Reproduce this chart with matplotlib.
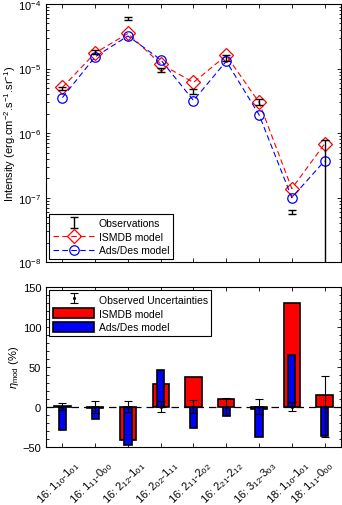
import numpy as np
import matplotlib
matplotlib.use("Agg")
import matplotlib.pyplot as plt
from matplotlib.transforms import ScaledTranslation
from matplotlib.ticker import LogLocator, MultipleLocator, NullFormatter

# ---- data ----
labels = ["16: 1$_{10}$-1$_{01}$", "16: 1$_{11}$-0$_{00}$", "16: 2$_{12}$-1$_{01}$",
          "16: 2$_{02}$-1$_{11}$", "16: 2$_{11}$-2$_{02}$", "16: 2$_{21}$-2$_{12}$",
          "16: 3$_{12}$-3$_{03}$", "18: 1$_{10}$-1$_{01}$", "18: 1$_{11}$-0$_{00}$"]
obs = [4.9e-6, 1.8e-5, 6.0e-5, 9.4e-6, 4.4e-6, 1.47e-5, 3.05e-6, 6.0e-8, 6.5e-7]
obs_lo = [4.66e-6, 1.67e-5, 5.6e-5, 8.7e-6, 4.05e-6, 1.31e-5, 2.76e-6, 5.65e-8, 1e-9]
obs_hi = [5.12e-6, 1.93e-5, 6.4e-5, 1.01e-5, 4.75e-6, 1.63e-5, 3.34e-6, 6.35e-8, 7.8e-7]
ismdb = [5.1e-6, 1.75e-5, 3.5e-5, 1.18e-5, 6.1e-6, 1.6e-5, 3.0e-6, 1.38e-7, 6.8e-7]
adsdes = [3.55e-6, 1.52e-5, 3.2e-5, 1.37e-5, 3.2e-6, 1.3e-5, 1.93e-6, 1.0e-7, 3.7e-7]

eta_ismdb = [1, -2, -42, 28, 37, 10, -3, 130, 15]
eta_ads = [-29, -16, -48, 46, -27, -12, -38, 65, -37]
unc = [4.5, 7.5, 7, 7.3, 8, 11, 9.5, 6, 38.7]

plt.rcParams['font.family'] = ['Liberation Sans', 'DejaVu Sans']
plt.rcParams['mathtext.fontset'] = 'custom'
plt.rcParams['mathtext.rm'] = 'Liberation Sans'
plt.rcParams['mathtext.it'] = 'Liberation Sans:italic'

x = np.arange(1, len(labels) + 1)
fig = plt.figure(figsize=(3.42, 5.06), dpi=100)
ax1 = fig.add_axes([0.1345, 0.480, 0.8625, 0.510])
ax2 = fig.add_axes([0.1345, 0.1156, 0.8625, 0.3154])

fs = 8
# ---- top panel ----
o = np.array(obs)
yerr = [o - np.array(obs_lo), np.array(obs_hi) - o]
ax1.errorbar(x, obs, yerr=yerr, fmt='none', ecolor='black', elinewidth=1.0,
             capsize=3.2, capthick=1.0, label='Observations', zorder=4)
ax1.plot(x, ismdb, linestyle=(0, (5, 3)), color='red', lw=0.8, marker='D',
         markersize=6.8, markerfacecolor='none', markeredgecolor='red', mew=0.9,
         label='ISMDB model', zorder=3)
ax1.plot(x, adsdes, linestyle=(0, (5, 3)), color='blue', lw=0.8, marker='o',
         markersize=6.8, markerfacecolor='none', markeredgecolor='blue', mew=0.9,
         label='Ads/Des model', zorder=3)
ax1.set_yscale('log')
ax1.set_ylim(1e-8, 1e-4)
ax1.set_xlim(0.5, 9.5)
ax1.set_xticks(x)
ax1.set_xticklabels([])
ax1.yaxis.set_major_locator(LogLocator(base=10, numticks=10))
ax1.yaxis.set_minor_locator(LogLocator(base=10, subs=np.arange(2, 10), numticks=20))
ax1.yaxis.set_minor_formatter(NullFormatter())
ax1.set_ylabel('Intensity (erg.cm$^{-2}$.s$^{-1}$.sr$^{-1}$)', fontsize=fs, labelpad=0)
h1, l1 = ax1.get_legend_handles_labels()
ord1 = [l1.index('Observations'), l1.index('ISMDB model'), l1.index('Ads/Des model')]
leg1 = ax1.legend([h1[i] for i in ord1], [l1[i] for i in ord1], loc='lower left',
                  fontsize=7.5, frameon=True, fancybox=False,
                  edgecolor='black', framealpha=1, handlelength=4.0,
                  borderaxespad=0.3, labelspacing=0.35, handletextpad=0.4,
                  borderpad=0.35)
leg1.get_frame().set_linewidth(0.8)

# ---- bottom panel ----
ax2.axhline(0, color='black', linestyle=(0, (6, 4)), lw=0.9, zorder=1)
ax2.bar(x, eta_ismdb, width=0.5, color='red', edgecolor='black', linewidth=1.2,
        label='ISMDB model', zorder=2)
ax2.bar(x, eta_ads, width=0.22, color='blue', edgecolor='black', linewidth=1.2,
        label='Ads/Des model', zorder=3)
ax2.errorbar(x, np.zeros(len(x)), yerr=unc, fmt='.', color='black', markersize=2.5,
             elinewidth=0.8, capsize=3.2, capthick=0.8,
             label='Observed Uncertainties', zorder=4)
ax2.set_xlim(0.5, 9.5)
ax2.set_ylim(-50, 150)
ax2.set_yticks([-50, 0, 50, 100, 150])
ax2.yaxis.set_minor_locator(MultipleLocator(10))
ax2.set_xticks(x)
ax2.set_xticklabels([])
n = len(labels)
for i, (xi, lab) in enumerate(zip(x, labels)):
    dx = 0.155 if i < n - 1 else 0.07
    trans = ax2.get_xaxis_transform() + ScaledTranslation(dx, -0.165, fig.dpi_scale_trans)
    ax2.text(xi, 0, lab, transform=trans, rotation=45, ha='right', va='center',
             rotation_mode='anchor', fontsize=8, clip_on=False)
ax2.set_ylabel(r'$\eta_{\rm mod}$ (%)', fontsize=fs, labelpad=1)
h, l = ax2.get_legend_handles_labels()
order = [l.index('Observed Uncertainties'), l.index('ISMDB model'), l.index('Ads/Des model')]
leg2 = ax2.legend([h[i] for i in order], [l[i] for i in order], loc='upper left',
                  fontsize=7.5, frameon=True, fancybox=False, edgecolor='black',
                  framealpha=1, handlelength=4.0, handleheight=1.2,
                  borderaxespad=0.3, labelspacing=0.3, handletextpad=0.4,
                  borderpad=0.35)
leg2.get_frame().set_linewidth(0.8)

for ax in (ax1, ax2):
    ax.tick_params(which='both', direction='in', top=True, right=True,
                   labelsize=fs, width=0.6, color='black')
    ax.tick_params(which='major', length=3)
    ax.tick_params(which='minor', length=1.8)
    ax.tick_params(axis='x', which='minor', top=False, bottom=False)
    for s in ax.spines.values():
        s.set_linewidth(0.8)

fig.savefig('out.png', dpi=100)
